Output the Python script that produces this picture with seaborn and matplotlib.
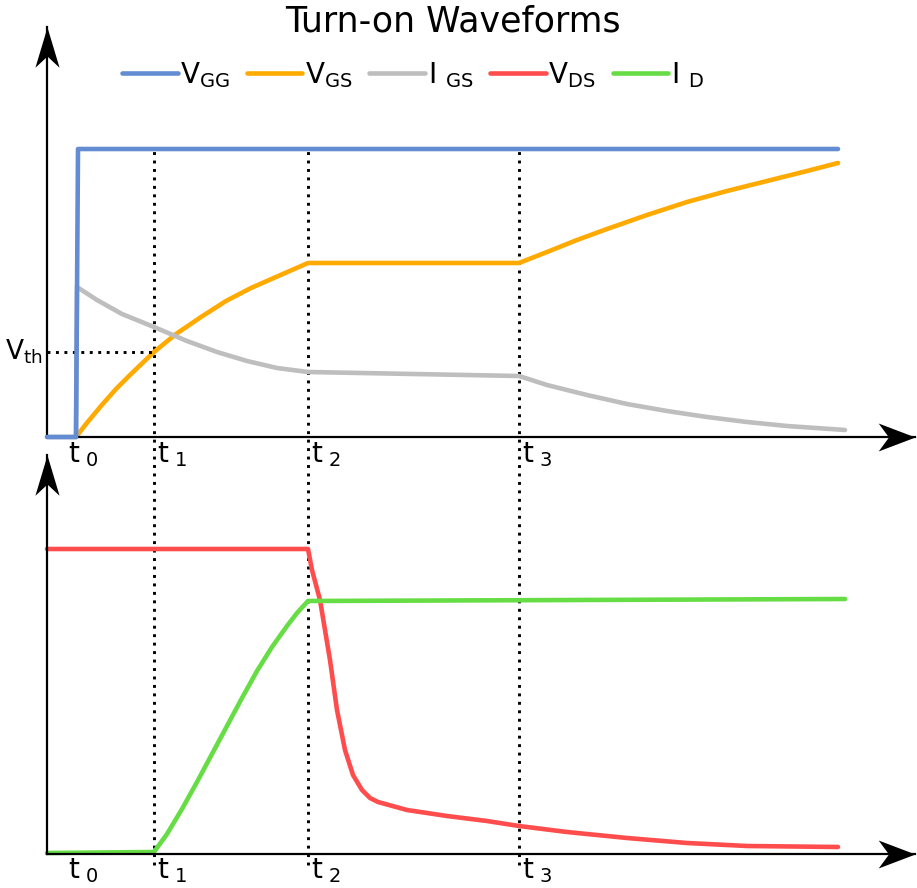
import numpy as np
import pandas as pd
import matplotlib
matplotlib.use("Agg")
import matplotlib.pyplot as plt
from matplotlib.path import Path
import seaborn as sns

# time axis in drawing units, switching instants
t_marks = [29, 107, 261, 472]
t_names = [r"t$_{\ 0}$", r"t$_{\ 1}$", r"t$_{\ 2}$", r"t$_{\ 3}$"]
v_th = 85

# upper panel (gate side)
vgg_t = [0, 29, 31, 791]
vgg_v = [0, 0, 288, 288]

vgs_t = [29, 39, 54, 69, 84, 107, 129, 154, 179, 204, 229, 261,
         472, 500, 530, 560, 600, 640, 680, 720, 760, 791]
vgs_v = [0, 13, 31, 48, 63, 85, 103, 120, 136, 149, 160, 174,
         174, 185, 197, 208, 222, 235, 246, 256, 266, 274]

igs_t = [0, 29, 30, 50, 75, 107, 140, 170, 200, 230, 261,
         472, 500, 540, 580, 620, 660, 700, 740, 798]
igs_v = [0, 0, 150, 137, 123, 110, 96, 85, 76, 69, 65,
         61, 52, 42, 33, 26, 20, 15, 11, 7]

# lower panel (drain side)
vds_t = [0, 261, 265, 273, 283, 290, 298, 306, 315, 323, 331,
         360, 400, 440, 472, 520, 580, 640, 700, 791]
vds_v = [305, 305, 284, 254, 194, 144, 104, 79, 64, 56, 52,
         44, 38, 33, 28, 22, 16, 11, 8, 7]

id_t = [0, 107, 120, 135, 150, 165, 180, 195, 210, 225, 240, 250, 261, 798]
id_v = [1, 2, 20, 45, 72, 100, 128, 156, 183, 207, 228, 241, 253, 255]

colors = {"VGG": "#648cd2", "VGS": "#ffaa00", "IGS": "#bebebe",
          "VDS": "#ff4d4d", "ID": "#66dd44"}
labels = {"VGG": "V$_{\\mathregular{GG}}$", "VGS": "V$_{\\mathregular{GS}}$",
          "IGS": "I $_{\\mathregular{GS}}$", "VDS": "V$_{\\mathregular{DS}}$",
          "ID": "I $_{\\mathregular{D}}$"}

sns.set_style("white")
plt.rcParams["font.family"] = ["DejaVu Sans"]
plt.rcParams["text.color"] = "black"

fig = plt.figure(figsize=(9.17, 8.88), dpi=100)
W, H = 917, 888
ax1 = fig.add_axes([47 / W, (H - 437) / H, 868 / W, 410 / H])
ax2 = fig.add_axes([47 / W, (H - 854) / H, 868 / W, 399 / H])

def draw(ax, name, t, v, z=2):
    df = pd.DataFrame({"t": t, "v": v})
    sns.lineplot(data=df, x="t", y="v", ax=ax, color=colors[name], linewidth=3.3,
                 label=labels[name], sort=False, estimator=None, clip_on=False,
                 zorder=z)

draw(ax1, "VGG", vgg_t, vgg_v, z=3)
draw(ax1, "VGS", vgs_t, vgs_v)
draw(ax1, "IGS", igs_t, igs_v)
draw(ax2, "VDS", vds_t, vds_v)
draw(ax2, "ID", id_t, id_v)

# arrow heads (notched)
head_r = Path([(0, 0), (-1, 0.38), (-0.72, 0), (-1, -0.38), (0, 0)],
              [Path.MOVETO, Path.LINETO, Path.LINETO, Path.LINETO, Path.CLOSEPOLY])
head_u = Path([(0, 0), (0.3, -1), (0, -0.72), (-0.3, -1), (0, 0)],
              [Path.MOVETO, Path.LINETO, Path.LINETO, Path.LINETO, Path.CLOSEPOLY])

for ax, top in [(ax1, 410), (ax2, 399)]:
    ax.set_xlim(0, 868)
    ax.set_ylim(0, top)
    ax.patch.set_alpha(0)
    ax.set_xticks([])
    ax.set_yticks([])
    ax.set_xlabel("")
    ax.set_ylabel("")
    for s in ["top", "right"]:
        ax.spines[s].set_visible(False)
    for s in ["left", "bottom"]:
        ax.spines[s].set_color("black")
        ax.spines[s].set_linewidth(1.6)
    ax.plot([1], [0], marker=head_r, ms=53, color="black", transform=ax.transAxes,
            clip_on=False, mec="none")
    ax.plot([0], [1], marker=head_u, ms=58, color="black", transform=ax.transAxes,
            clip_on=False, mec="none")

# dotted time markers spanning both panels
dots = (0, (1, 1.9))
ax1.vlines(t_marks[1:], -428, 288, colors="black", linestyles=dots,
           lw=2.1, clip_on=False, zorder=1)
ax1.hlines(v_th, 0, t_marks[1], colors="black", linestyles=dots, lw=2.1)
ax1.text(-4, v_th, "V$_{\\mathregular{th}}$", ha="right", va="center", fontsize=19)

for i, (tm, nm) in enumerate(zip(t_marks, t_names)):
    x = tm + 3 if i else 21
    ax1.text(x, -3, nm, ha="left", va="top", fontsize=20)
    ax2.text(x, -2, nm, ha="left", va="top", fontsize=20)

# legend for all series
h1, l1 = ax1.get_legend_handles_labels()
h2, l2 = ax2.get_legend_handles_labels()
ax2.get_legend().remove()
ax1.legend(h1 + h2, l1 + l2, ncol=5, frameon=False, fontsize=20,
           loc="center", bbox_to_anchor=(413 / W, (H - 75) / H),
           bbox_transform=fig.transFigure, handlelength=2.0,
           handletextpad=0.1, columnspacing=0.6)

fig.text(453 / W, (H - 21) / H, "Turn-on Waveforms", ha="center", va="center",
         fontsize=25)

fig.savefig("out.png", dpi=100)
